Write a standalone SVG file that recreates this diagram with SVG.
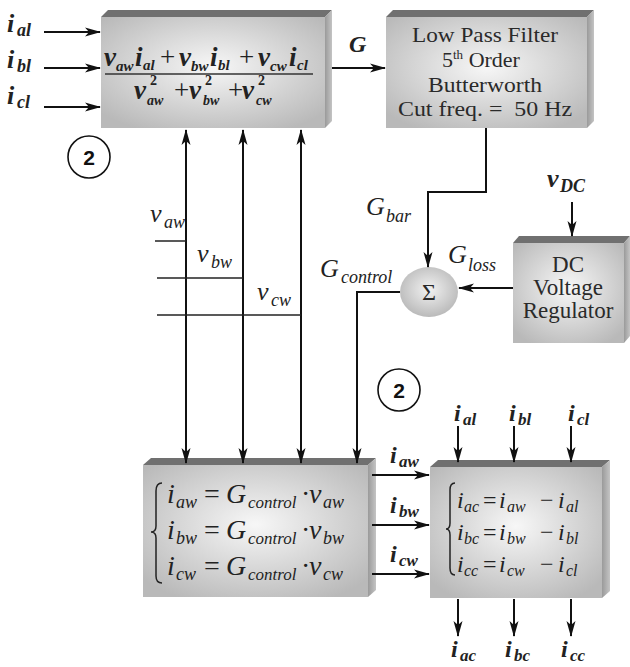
<svg xmlns="http://www.w3.org/2000/svg" width="630" height="667" viewBox="0 0 630 667">
<defs>
<radialGradient id="face" cx="50%" cy="45%" r="65%">
<stop offset="0" stop-color="#f7f7f7"/>
<stop offset="1" stop-color="#b9b9b9"/>
</radialGradient>
<linearGradient id="side" x1="0" y1="0" x2="1" y2="0">
<stop offset="0" stop-color="#9a9a9a"/>
<stop offset="1" stop-color="#c4c4c4"/>
</linearGradient>
<radialGradient id="sig" cx="50%" cy="45%" r="60%">
<stop offset="0" stop-color="#f2f2f2"/>
<stop offset="1" stop-color="#b5b5b5"/>
</radialGradient>
<marker id="ah" markerUnits="userSpaceOnUse" markerWidth="16" markerHeight="10" refX="15" refY="5" orient="auto-start-reverse">
<path d="M0,0.5 L16,5 L0,9.5 L4,5 Z" fill="#111"/>
</marker>
</defs>
<style>
.top{fill:#707070}
.side{fill:url(#side)}
.front{fill:url(#face)}
.ar{stroke:#111;stroke-width:2;fill:none;marker-end:url(#ah)}
.ar2{stroke:#111;stroke-width:2;fill:none;marker-end:url(#ah);marker-start:url(#ah)}
.thin{stroke:#222;stroke-width:1.5;fill:none}
.m{font-family:"Liberation Serif","Times New Roman",serif;font-style:italic;fill:#222}
.b{font-weight:bold}
.r{font-family:"Liberation Serif","Times New Roman",serif;fill:#2a2a2a}
.s{font-family:"Liberation Sans",Arial,sans-serif;font-weight:bold;fill:#111}
</style>
<rect width="630" height="667" fill="#fff"/>

<g id="calcG">
<polygon class="top" points="101,17 108,10 332,10 325,17"/>
<polygon class="side" points="325,17 332,10 332,121 325,128"/>
<rect class="front" x="101" y="17" width="224" height="111"/>
<text class="m b" font-size="27">
<tspan x="104" y="66">v</tspan><tspan x="116" y="71" font-size="15">aw</tspan><tspan x="135" y="66">i</tspan><tspan x="143" y="70" font-size="15">al</tspan>
<tspan x="160" y="66" font-style="normal" font-weight="normal">+</tspan>
<tspan x="179" y="66">v</tspan><tspan x="191" y="71" font-size="15">bw</tspan><tspan x="210" y="66">i</tspan><tspan x="218" y="70" font-size="15">bl</tspan>
<tspan x="239" y="66" font-style="normal" font-weight="normal">+</tspan>
<tspan x="258" y="66">v</tspan><tspan x="270" y="71" font-size="15">cw</tspan><tspan x="289" y="66">i</tspan><tspan x="297" y="70" font-size="15">cl</tspan>
</text>
<line x1="105" y1="74" x2="313" y2="74" stroke="#333" stroke-width="1.6"/>
<text class="m b" font-size="27">
<tspan x="134" y="99">v</tspan><tspan x="150" y="85" font-size="14" font-style="normal">2</tspan><tspan x="147" y="105" font-size="14">aw</tspan>
<tspan x="174" y="99" font-style="normal" font-weight="normal">+</tspan>
<tspan x="189" y="99">v</tspan><tspan x="205" y="85" font-size="14" font-style="normal">2</tspan><tspan x="203" y="105" font-size="14">bw</tspan>
<tspan x="228" y="99" font-style="normal" font-weight="normal">+</tspan>
<tspan x="242" y="99">v</tspan><tspan x="258" y="85" font-size="14" font-style="normal">2</tspan><tspan x="256" y="105" font-size="14">cw</tspan>
</text>
</g>

<g id="lpf">
<polygon class="top" points="386,17 393,10 594,10 587,17"/>
<polygon class="side" points="587,17 594,10 594,121 587,128"/>
<rect class="front" x="386" y="17" width="201" height="111"/>
<text class="r" font-size="22" x="412" y="42" textLength="146" lengthAdjust="spacingAndGlyphs">Low Pass Filter</text>
<text class="r" font-size="22" x="442" y="67">5<tspan font-size="13" dy="-8">th</tspan><tspan dy="8"> Order</tspan></text>
<text class="r" font-size="22" x="428" y="92" textLength="114" lengthAdjust="spacingAndGlyphs">Butterworth</text>
<text class="r" font-size="22" x="398" y="116" textLength="174" lengthAdjust="spacingAndGlyphs" xml:space="preserve">Cut freq. =  50 Hz</text>
</g>

<g id="dcreg">
<polygon class="top" points="513,243 519,236 630,236 624,243"/>
<polygon class="side" points="624,243 630,236 630,336 624,343"/>
<rect class="front" x="513" y="243" width="111" height="100"/>
<text class="r" font-size="23" x="568" y="272" text-anchor="middle">DC</text>
<text class="r" font-size="23" x="568" y="295" text-anchor="middle">Voltage</text>
<text class="r" font-size="23" x="568" y="318" text-anchor="middle">Regulator</text>
</g>

<g id="sum">
<ellipse cx="429" cy="292" rx="29" ry="25" fill="url(#sig)"/>
<text class="r" font-size="24" x="429" y="300" text-anchor="middle">Σ</text>
</g>

<g id="calcI">
<polygon class="top" points="143,465 151,458 376,458 368,465"/>
<polygon class="side" points="368,465 376,458 376,590 368,597"/>
<rect class="front" x="143" y="465" width="225" height="132"/>
<path class="thin" d="M162,483 Q156,483 156,491 L156,526 Q156,532 151,532 Q156,532 156,538 L156,576 Q156,583 162,583"/>
<text class="m" font-size="28">
<tspan x="167" y="503">i</tspan><tspan x="176" y="508" font-size="18">aw</tspan><tspan x="204" y="503" font-style="normal">=</tspan><tspan x="226" y="503">G</tspan><tspan x="248" y="508" font-size="17">control</tspan><tspan x="301" y="503" font-style="normal">·</tspan><tspan x="309" y="503">v</tspan><tspan x="323" y="508" font-size="18">aw</tspan>
</text>
<text class="m" font-size="28">
<tspan x="167" y="539">i</tspan><tspan x="176" y="544" font-size="18">bw</tspan><tspan x="204" y="539" font-style="normal">=</tspan><tspan x="226" y="539">G</tspan><tspan x="248" y="544" font-size="17">control</tspan><tspan x="301" y="539" font-style="normal">·</tspan><tspan x="309" y="539">v</tspan><tspan x="323" y="544" font-size="18">bw</tspan>
</text>
<text class="m" font-size="28">
<tspan x="167" y="575">i</tspan><tspan x="176" y="580" font-size="18">cw</tspan><tspan x="204" y="575" font-style="normal">=</tspan><tspan x="226" y="575">G</tspan><tspan x="248" y="580" font-size="17">control</tspan><tspan x="301" y="575" font-style="normal">·</tspan><tspan x="309" y="575">v</tspan><tspan x="323" y="580" font-size="18">cw</tspan>
</text>
</g>

<g id="calcC">
<polygon class="top" points="430,467 438,460 610,460 602,467"/>
<polygon class="side" points="602,467 610,460 610,591 602,598"/>
<rect class="front" x="430" y="467" width="172" height="131"/>
<path class="thin" d="M455,483 Q450,483 450,490 L450,523 Q450,529 446,529 Q450,529 450,535 L450,568 Q450,575 455,575"/>
<text class="m" font-size="24">
<tspan x="457" y="508">i</tspan><tspan x="464" y="512" font-size="16">ac</tspan><tspan x="483" y="508" font-style="normal">=</tspan><tspan x="499" y="508">i</tspan><tspan x="507" y="512" font-size="16">aw</tspan><tspan x="540" y="508" font-style="normal">−</tspan><tspan x="558" y="508">i</tspan><tspan x="566" y="512" font-size="16">al</tspan>
</text>
<text class="m" font-size="24">
<tspan x="457" y="540">i</tspan><tspan x="464" y="544" font-size="16">bc</tspan><tspan x="483" y="540" font-style="normal">=</tspan><tspan x="499" y="540">i</tspan><tspan x="507" y="544" font-size="16">bw</tspan><tspan x="540" y="540" font-style="normal">−</tspan><tspan x="558" y="540">i</tspan><tspan x="566" y="544" font-size="16">bl</tspan>
</text>
<text class="m" font-size="24">
<tspan x="457" y="572">i</tspan><tspan x="464" y="576" font-size="16">cc</tspan><tspan x="483" y="572" font-style="normal">=</tspan><tspan x="499" y="572">i</tspan><tspan x="507" y="576" font-size="16">cw</tspan><tspan x="540" y="572" font-style="normal">−</tspan><tspan x="558" y="572">i</tspan><tspan x="566" y="576" font-size="16">cl</tspan>
</text>
</g>

<g id="badge1">
<circle cx="89" cy="157" r="21" fill="#fff" stroke="#111" stroke-width="1.6"/>
<text class="s" font-size="21" x="89" y="165" text-anchor="middle">2</text>
</g>
<g id="badge2">
<circle cx="399" cy="390" r="21" fill="#fff" stroke="#111" stroke-width="1.6"/>
<text class="s" font-size="21" x="399" y="398" text-anchor="middle">2</text>
</g>

<g id="connectors">
<line class="ar" x1="44" y1="32" x2="100" y2="32"/>
<line class="ar" x1="44" y1="68" x2="100" y2="68"/>
<line class="ar" x1="44" y1="107" x2="100" y2="107"/>
<line class="ar" x1="332" y1="68" x2="385" y2="68"/>
<line class="ar2" x1="186" y1="130" x2="186" y2="463"/>
<line class="ar2" x1="243" y1="130" x2="243" y2="463"/>
<line class="ar2" x1="301" y1="130" x2="301" y2="463"/>
<line class="thin" x1="155" y1="241" x2="186" y2="241"/>
<line class="thin" x1="157" y1="278" x2="243" y2="278"/>
<line class="thin" x1="157" y1="315" x2="301" y2="315"/>
<path class="ar" d="M486,128 L486,192 L428,192 L428,267"/>
<line class="ar" x1="572" y1="202" x2="572" y2="236"/>
<line class="ar" x1="513" y1="288" x2="459" y2="288"/>
<path class="ar" d="M400,292 L357,292 L357,463"/>
<line class="ar" x1="372" y1="475" x2="429" y2="475"/>
<line class="ar" x1="372" y1="525" x2="429" y2="525"/>
<line class="ar" x1="372" y1="574" x2="429" y2="574"/>
<line class="ar" x1="458" y1="426" x2="458" y2="462"/>
<line class="ar" x1="514" y1="426" x2="514" y2="462"/>
<line class="ar" x1="571" y1="426" x2="571" y2="462"/>
<line class="ar" x1="458" y1="599" x2="458" y2="636"/>
<line class="ar" x1="514" y1="599" x2="514" y2="636"/>
<line class="ar" x1="571" y1="599" x2="571" y2="636"/>
</g>

<g id="labels">
<text class="m b" font-size="26"><tspan x="7" y="32">i</tspan><tspan x="17" y="36" font-size="18">al</tspan></text>
<text class="m b" font-size="26"><tspan x="7" y="68">i</tspan><tspan x="17" y="72" font-size="18">bl</tspan></text>
<text class="m b" font-size="26"><tspan x="7" y="104">i</tspan><tspan x="17" y="108" font-size="18">cl</tspan></text>
<text class="m b" font-size="24" x="349" y="52">G</text>
<text class="m" font-size="26"><tspan x="150" y="222">v</tspan><tspan x="164" y="228" font-size="18">aw</tspan></text>
<text class="m" font-size="26"><tspan x="197" y="262">v</tspan><tspan x="211" y="268" font-size="18">bw</tspan></text>
<text class="m" font-size="26"><tspan x="257" y="300">v</tspan><tspan x="271" y="306" font-size="18">cw</tspan></text>
<text class="m" font-size="26"><tspan x="366" y="215">G</tspan><tspan x="386" y="222" font-size="18">bar</tspan></text>
<text class="m" font-size="26"><tspan x="448" y="263">G</tspan><tspan x="468" y="271" font-size="18">loss</tspan></text>
<text class="m" font-size="26"><tspan x="320" y="277">G</tspan><tspan x="341" y="283" font-size="18">control</tspan></text>
<text class="m b" font-size="26"><tspan x="547" y="187">v</tspan><tspan x="560" y="192" font-size="18">DC</tspan></text>
<text class="m b" font-size="24"><tspan x="390" y="463">i</tspan><tspan x="399" y="467" font-size="17">aw</tspan></text>
<text class="m b" font-size="24"><tspan x="390" y="513">i</tspan><tspan x="399" y="517" font-size="17">bw</tspan></text>
<text class="m b" font-size="24"><tspan x="390" y="562">i</tspan><tspan x="399" y="566" font-size="17">cw</tspan></text>
<text class="m b" font-size="24"><tspan x="454" y="421">i</tspan><tspan x="463" y="425" font-size="17">al</tspan></text>
<text class="m b" font-size="24"><tspan x="509" y="421">i</tspan><tspan x="518" y="425" font-size="17">bl</tspan></text>
<text class="m b" font-size="24"><tspan x="568" y="421">i</tspan><tspan x="577" y="425" font-size="17">cl</tspan></text>
<text class="m b" font-size="24"><tspan x="451" y="657">i</tspan><tspan x="460" y="661" font-size="17">ac</tspan></text>
<text class="m b" font-size="24"><tspan x="505" y="657">i</tspan><tspan x="514" y="661" font-size="17">bc</tspan></text>
<text class="m b" font-size="24"><tspan x="561" y="657">i</tspan><tspan x="570" y="661" font-size="17">cc</tspan></text>
</g>
</svg>
